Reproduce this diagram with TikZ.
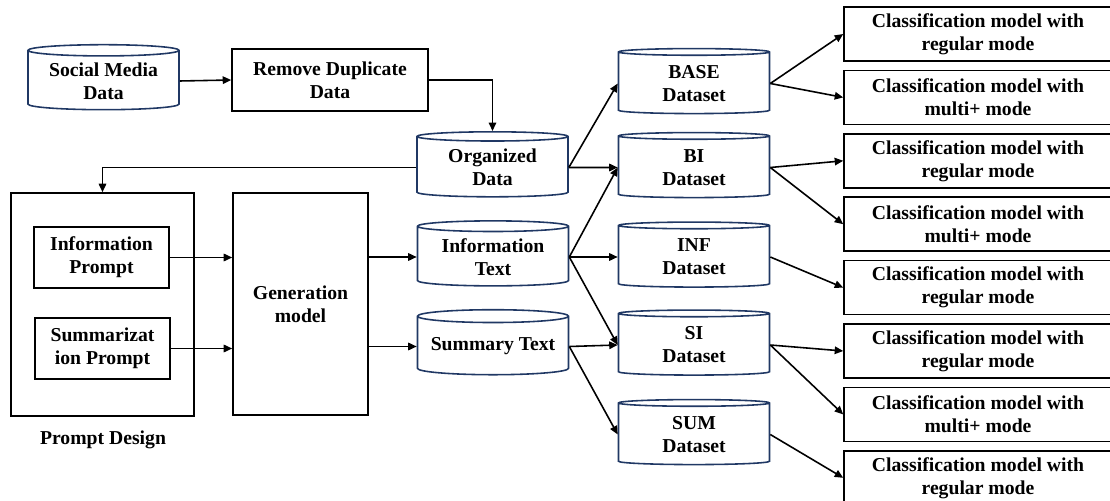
\documentclass[tikz,border=0pt]{standalone}
\usepackage{fontspec}
\setmainfont{Liberation Serif}
\usepackage{tikz}
\usetikzlibrary{shapes.geometric,arrows.meta}
\definecolor{dbline}{RGB}{32,56,100}

\begin{document}
\begin{tikzpicture}[
  font=\fontsize{11.2}{13.1}\selectfont\bfseries,
  box/.style={draw, line width=0.9pt, align=center, inner sep=1pt},
  dbase/.style={cylinder, shape border rotate=90, aspect=0.1, draw=dbline,
                line width=0.9pt, align=center, inner sep=1pt,
                minimum width=3.02cm, minimum height=1.3cm},
  clsbox/.style={box, minimum width=5.36cm, minimum height=1.08cm},
  arr/.style={line width=0.9pt, -{Triangle[length=1.7mm,width=1.5mm]}}
]
\useasboundingbox (0,0) rectangle (22.2,-10.02);

% data preparation
\node[dbase] (social) at (2.07,-1.62) {Social Media\\Data};
\node[box, minimum width=3.92cm, minimum height=1.24cm] (dedup) at (6.6,-1.6) {Remove Duplicate\\Data};
\node[dbase] (org) at (9.85,-3.35) {Organized\\Data};

% prompts and generation
\node[box, minimum width=3.66cm, minimum height=4.46cm] (design) at (2.05,-6.09) {};
\node[box, minimum width=2.7cm, minimum height=1.22cm] (infop) at (2.03,-5.15) {Information\\Prompt};
\node[box, minimum width=2.7cm, minimum height=1.22cm] (sump) at (2.05,-6.97) {Summarizat\\ion Prompt};
\node (designlbl) at (2.06,-8.8) {Prompt Design};
\node[box, minimum width=2.7cm, minimum height=4.44cm] (gen) at (6.01,-6.08) {Generation\\model};
\node[dbase] (infot) at (9.86,-5.14) {Information\\Text};
\node[dbase] (sumt) at (9.86,-6.93) {Summary Text};

% datasets
\node[dbase] (base) at (13.88,-1.67) {BASE\\Dataset};
\node[dbase] (bi) at (13.88,-3.35) {BI\\Dataset};
\node[dbase] (inf) at (13.88,-5.14) {INF\\Dataset};
\node[dbase] (si) at (13.88,-6.9) {SI\\Dataset};
\node[dbase] (sum) at (13.88,-8.69) {SUM\\Dataset};

% classification models
\foreach \i/\m in {1/regular,2/multi+,3/regular,4/multi+,5/regular,6/regular,7/multi+,8/regular}
  \node[clsbox] (cls\i) at (19.56,{-0.68-1.268*(\i-1)}) {Classification model with\\\m{} mode};

\draw[arr] (social.east) -- (dedup.west);
\draw[arr] (dedup.east) -| (org.north);
\draw[arr] (org.west) -| (design.north);
\draw[arr] (infop.east) -- (infop.east -| gen.west);
\draw[arr] (sump.east) -- (sump.east -| gen.west);
\draw[arr] (gen.east |- infot.west) -- (infot.west);
\draw[arr] (gen.east |- sumt.west) -- (sumt.west);

\draw[arr] (org.east) -- (base.west);
\draw[arr] (org.east) -- (bi.west);
\draw[arr] (infot.east) -- (bi.west);
\draw[arr] (infot.east) -- (inf.west);
\draw[arr] (infot.east) -- (si.west);
\draw[arr] (sumt.east) -- (si.west);
\draw[arr] (sumt.east) -- (sum.west);

\draw[arr] (base.east) -- (cls1.west);
\draw[arr] (base.east) -- (cls2.west);
\draw[arr] (bi.east) -- (cls3.west);
\draw[arr] (bi.east) -- (cls4.west);
\draw[arr] (inf.east) -- (cls5.west);
\draw[arr] (si.east) -- (cls6.west);
\draw[arr] (si.east) -- (cls7.west);
\draw[arr] (sum.east) -- (cls8.west);
\end{tikzpicture}
\end{document}
